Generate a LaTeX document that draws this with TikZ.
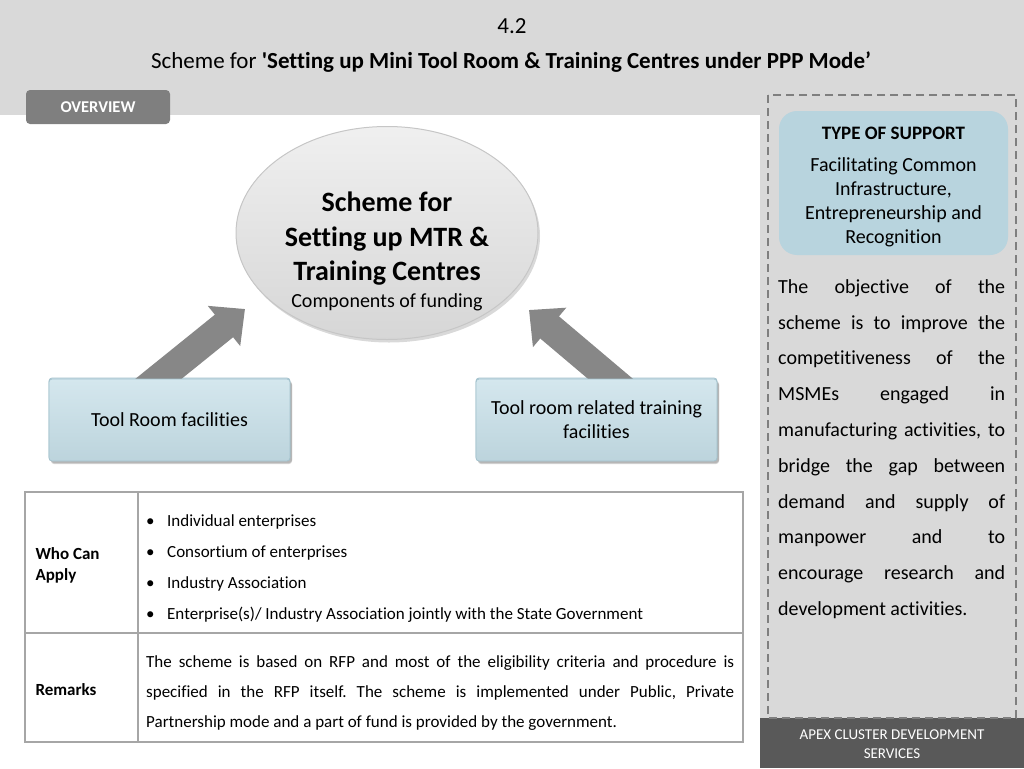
\documentclass[tikz,border=0pt]{standalone}
\usepackage{fontspec}
\setmainfont{Carlito}[Ligatures={TeX,NoCommon}]
\frenchspacing
\usetikzlibrary{shadows,arrows.meta,shapes.geometric}
\definecolor{bandgray}{HTML}{D9D9D9}
\definecolor{tabgray}{HTML}{7F7F7F}
\definecolor{darkfoot}{HTML}{595959}
\definecolor{dashgray}{HTML}{7F7F7F}
\definecolor{boxblue}{HTML}{C6DFE8}
\definecolor{boxblueedge}{HTML}{A3C2CD}
\definecolor{supblue}{HTML}{B8D4DE}
\definecolor{arrowgray}{HTML}{878787}
\definecolor{tableline}{HTML}{A6A6A6}
\tikzset{
  fnt/.style n args={2}{font=\fontsize{#1}{#2}\selectfont},
  fntb/.style n args={2}{font=\fontsize{#1}{#2}\selectfont\bfseries},
  fbox/.style={draw=boxblueedge, line width=0.8pt, top color=boxblue!75!white, bottom color=boxblue!95!black,
    rounded corners=3pt, minimum width=241pt, minimum height=82pt, align=center, fnt={20}{24},
    drop shadow={shadow xshift=2pt, shadow yshift=-3pt, opacity=0.35}},
  bigarrow/.style={line width=29pt, draw=arrowgray, shorten <=-25pt, -{Triangle[width=50pt,length=27pt]}},
}
\begin{document}
\begin{tikzpicture}[x=1pt,y=-1pt]
\useasboundingbox (0,0) rectangle (1024,768);
% backgrounds
\fill[bandgray] (0,0) rectangle (1024,115);
\fill[bandgray] (760,0) rectangle (1024,768);
\fill[darkfoot] (760,718) rectangle (1024,768);
\draw[dashgray, line width=2pt, dash pattern=on 8pt off 5pt] (768,95) rectangle (1016,718);
% title
\node[fnt={23}{27}] (num) at (512,26) {4.2};
\node[fnt={23}{27}] (title) at (511,62) {Scheme for \textbf{\textquotesingle Setting up Mini Tool Room \& Training Centres under PPP Mode’}};
% overview tab
\node[fill=tabgray, rounded corners=4pt, minimum width=144pt, minimum height=34pt, text=white, fntb={16.5}{20}] (tab) at (98,107)
  {OVERVIEW};
% central ellipse
\node[ellipse, minimum width=302pt, minimum height=213pt, draw=gray!45, line width=1pt,
  top color=gray!12, bottom color=gray!32,
  drop shadow={shadow xshift=2pt, shadow yshift=-3pt, opacity=0.3}] (ell) at (387,233) {};
\node[align=center, fntb={28}{34.5}] (elltitle) at (387,239)
  {Scheme for\\Setting up MTR \&\\Training Centres};
\node[fnt={20}{24}] (ellsub) at (387,302) {Components of funding};
% boxes
\node[fbox] (lbox) at (169.5,419) {Tool Room facilities};
\node[fbox] (rbox) at (596.5,419) {Tool room related training\\facilities};
% arrows
\coordinate (ltip) at (245,309);
\coordinate (rtip) at (529,310);
\draw[bigarrow] ([xshift=-9.5pt]lbox.north) -- (ltip);
\draw[bigarrow] ([xshift=12.5pt]rbox.north) -- (rtip);
\node[fbox] at ([yshift=-1pt]lbox) {Tool Room facilities};
\node[fbox] at ([yshift=-1pt]rbox) {Tool room related training\\facilities};
% table
\draw[tableline, line width=1.2pt] (25,492) rectangle (743,742);
\draw[tableline, line width=1.2pt] (138,492) -- (138,742);
\draw[tableline, line width=1.2pt] (25,633) -- (743,633);
\node[anchor=west, align=left, fntb={17}{21}] (who) at (32,565) {Who Can\\Apply};
\node[anchor=west, fntb={17}{21}] (rem) at (32,690) {Remarks};
\node[anchor=west, align=left, inner sep=0pt, fnt={17}{31}] (list) at (146,569) {%
  \makebox[21pt][l]{\textbullet}Individual enterprises\\
  \makebox[21pt][l]{\textbullet}Consortium of enterprises\\
  \makebox[21pt][l]{\textbullet}Industry Association\\
  \makebox[21pt][l]{\textbullet}Enterprise(s)/ Industry Association jointly with the State Government};
\node[anchor=west, align=left, inner sep=0pt, fnt={17}{30}] (remtext) at (146,693) {%
  \makebox[588pt][s]{The scheme is based on RFP and most of the eligibility criteria and procedure is}\\
  \makebox[588pt][s]{specified in the RFP itself. The scheme is implemented under Public, Private}\\
  Partnership mode and a part of fund is provided by the government.};
% right panel
\node[fill=supblue, rounded corners=18pt, minimum width=229pt, minimum height=144pt] (sup) at (893.5,183) {};
\node[fntb={19}{23}] (suphead) at (893.5,133) {TYPE OF SUPPORT};
\node[align=center, fnt={20}{24}] (supbody) at (893.5,202) {Facilitating Common\\Infrastructure,\\Entrepreneurship and\\Recognition};
\node[anchor=west, align=left, inner sep=0pt, fnt={20}{35.8}] (obj) at (778,449) {%
  \makebox[227pt][s]{The objective of the}\\
  \makebox[227pt][s]{scheme is to improve the}\\
  \makebox[227pt][s]{competitiveness of the}\\
  \makebox[227pt][s]{MSMEs engaged in}\\
  \makebox[227pt][s]{manufacturing activities, to}\\
  \makebox[227pt][s]{bridge the gap between}\\
  \makebox[227pt][s]{demand and supply of}\\
  \makebox[227pt][s]{manpower and to}\\
  \makebox[227pt][s]{encourage research and}\\
  development activities.};
\node[align=center, text=white, fnt={15}{19}] (foot) at (892,744) {APEX CLUSTER DEVELOPMENT\\SERVICES};
\end{tikzpicture}
\end{document}
